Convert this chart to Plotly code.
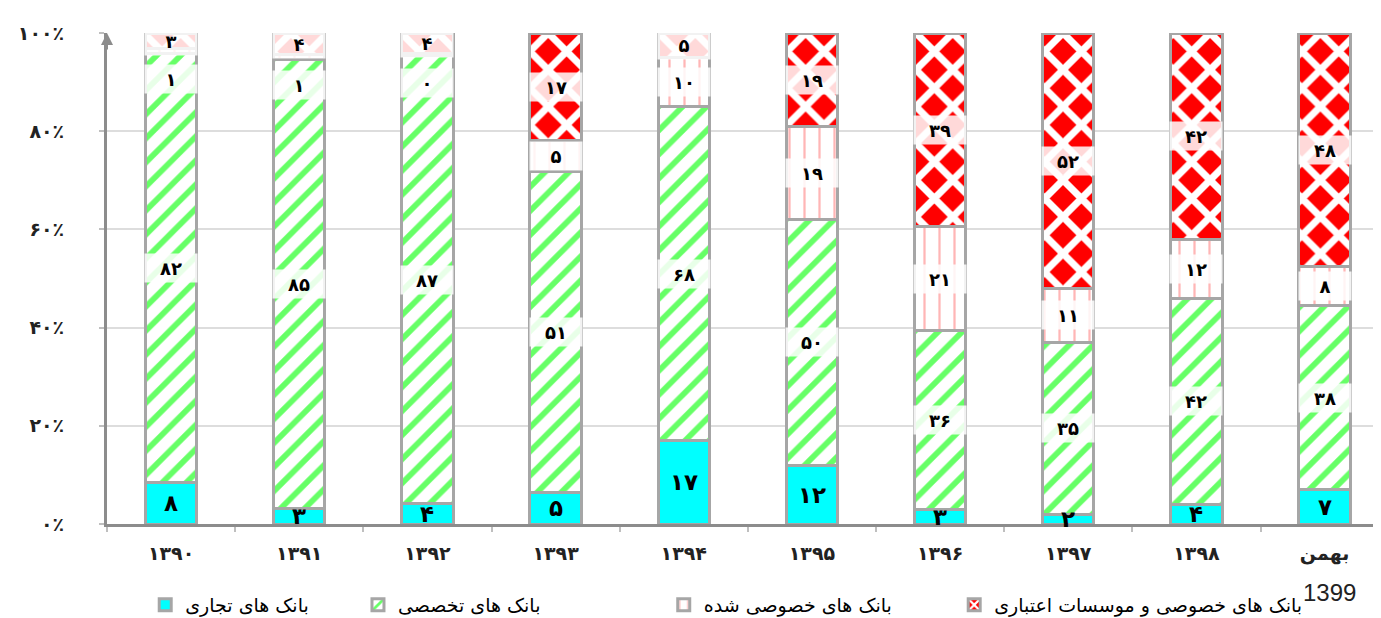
import plotly.graph_objects as go
import numpy as np

# ---------------- data ----------------
years = ["1390", "1391", "1392", "1393", "1394", "1395", "1396", "1397", "1398", "1399"]
year_labels = ["۱۳۹۰", "۱۳۹۱", "۱۳۹۲", "۱۳۹۳", "۱۳۹۴", "۱۳۹۵", "۱۳۹۶", "۱۳۹۷", "۱۳۹۸", "بهمن"]
last_year_note = "1399"

commercial = [8, 3, 4, 5, 17, 12, 3, 2, 4, 7]
specialized = [82, 85, 87, 51, 68, 50, 36, 35, 42, 38]
privatized = [1, 1, 0.4, 5, 10, 19, 21, 11, 12, 8]
private = [3, 4, 4, 17, 5, 19, 39, 52, 42, 48]

series_names = ["بانک های تجاری", "بانک های تخصصی", "بانک های خصوصی شده",
                "بانک های خصوصی و موسسات اعتباری"]

y_tick_vals = [0, 20, 40, 60, 80, 100]
y_tick_text = ["۰٪", "۲۰٪", "۴۰٪", "۶۰٪", "۸۰٪", "۱۰۰٪"]

# ---------------- helpers ----------------
FA = str.maketrans("0123456789", "۰۱۲۳۴۵۶۷۸۹")


def fa(v):
    return str(int(round(v))).translate(FA)


FONT = "DejaVu Sans"
BORDER = "#A6A6A6"

patterns = [
    dict(shape="", fillmode="replace", bgcolor="#00FFFF"),
    dict(shape="/", fillmode="replace", bgcolor="white", fgcolor="#66FF66", size=17, solidity=0.34),
    dict(shape="|", fillmode="replace", bgcolor="white", fgcolor="#FFB6B6", size=15, solidity=0.15),
    dict(shape="x", fillmode="replace", bgcolor="#FF0000", fgcolor="white", size=26, solidity=0.47),
]
colors = ["#00FFFF", "white", "white", "#FF0000"]
all_series = [commercial, specialized, privatized, private]
legend_ids = ["legend", "legend2", "legend3", "legend4"]

fig = go.Figure()
for s, name, pat, col, lg in zip(all_series, series_names, patterns, colors, legend_ids):
    fig.add_trace(go.Bar(
        x=years, y=s, name=name,
        marker=dict(color=col, pattern=pat, line=dict(color=BORDER, width=3)),
        legend=lg, hoverinfo="skip",
    ))

# ---------------- labels (normalised centres) ----------------
arr = np.array(all_series, dtype=float)
tot = arr.sum(axis=0)
cum = np.cumsum(arr, axis=0) - arr
annotations = []
for si in range(arr.shape[0]):
    for ci in range(len(years)):
        v = arr[si, ci]
        share = v / tot[ci] * 100
        yc = (cum[si, ci] + v / 2) / tot[ci] * 100
        if si == 0:
            annotations.append(dict(x=ci, y=yc, xref="x", yref="y", text="<b>" + fa(v) + "</b>",
                                    showarrow=False, font=dict(family=FONT, size=23, color="black")))
        else:
            # very thin segments: label is pushed down below the neighbouring label
            shift = -28 if (si == 2 and share < 3) else 0
            annotations.append(dict(x=ci, y=yc, xref="x", yref="y", text="<b>" + fa(v) + "</b>",
                                    showarrow=False, yshift=shift,
                                    font=dict(family=FONT, size=18, color="black"),
                                    bgcolor="rgba(255,255,255,0.85)", width=50, height=26))

# Latin year under the last category
annotations.append(dict(x=len(years) - 1, y=-0.14, xref="x", yref="paper", xshift=5,
                        text=last_year_note, showarrow=False, yanchor="middle",
                        font=dict(family="Liberation Sans", size=24, color="#222")))

# y-axis arrow
annotations.append(dict(x=0, y=1, xref="paper", yref="paper", ax=0, ay=18, text="",
                        showarrow=True, arrowhead=2, arrowsize=1.2, arrowwidth=2, arrowcolor="#8C8C8C"))

leg_common = dict(orientation="h", y=-0.165, yanchor="middle", xanchor="left",
                  font=dict(family=FONT, size=19, color="black"), bgcolor="rgba(0,0,0,0)")
legend_x = [0.03, 0.197, 0.437, 0.665]

fig.update_layout(
    width=1381, height=618,
    margin=dict(l=99, r=8, t=25, b=102, autoexpand=False),
    paper_bgcolor="white", plot_bgcolor="white",
    barmode="stack", barnorm="percent", bargap=0.6,
    showlegend=True,
    legend=dict(x=legend_x[0], **leg_common),
    legend2=dict(x=legend_x[1], **leg_common),
    legend3=dict(x=legend_x[2], **leg_common),
    legend4=dict(x=legend_x[3], **leg_common),
    annotations=annotations,
    xaxis=dict(
        type="category", range=[-0.5, 9.44], automargin=False,
        tickmode="array", tickvals=years, ticktext=["<b>" + t + "</b>" for t in year_labels],
        tickson="boundaries", ticks="outside", ticklen=5, tickwidth=2, tickcolor="#BFBFBF",
        showline=True, linecolor="#8C8C8C", linewidth=3,
        showgrid=False, tickfont=dict(family=FONT, size=19, color="#222"),
        ticklabelstandoff=10,
    ),
    yaxis=dict(
        range=[0, 100], tickmode="array", tickvals=y_tick_vals, automargin=False,
        ticktext=["<b>" + t + "</b>" for t in y_tick_text],
        ticks="outside", ticklen=5, tickwidth=2, tickcolor="#BFBFBF",
        showline=True, linecolor="#8C8C8C", linewidth=3,
        showgrid=True, gridcolor="#DDDDDD", gridwidth=2,
        zeroline=False, tickfont=dict(family=FONT, size=19, color="#222"),
        ticklabelstandoff=31,
    ),
)

fig.write_html("out.html")
